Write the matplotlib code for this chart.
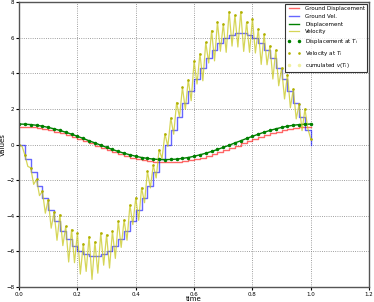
import matplotlib.pyplot as plt

# time grids
t_coarse = [round(0.02 * k, 2) for k in range(51)]
t_fine = [round(0.01 * k, 2) for k in range(101)]

# ground displacement (steps)
ground_disp = [1.00, 0.99, 0.97, 0.93, 0.88, 0.81, 0.73, 0.64, 0.54, 0.43,
               0.31, 0.19, 0.06, -0.06, -0.19, -0.31, -0.43, -0.54, -0.64, -0.73,
               -0.81, -0.88, -0.93, -0.97, -0.99, -1.00, -0.99, -0.97, -0.93, -0.88,
               -0.81, -0.73, -0.64, -0.54, -0.43, -0.31, -0.19, -0.06, 0.06, 0.19,
               0.31, 0.43, 0.54, 0.64, 0.73, 0.81, 0.88, 0.93, 0.97, 0.99, 1.00]

# ground velocity (steps)
ground_vel = [0.00, -0.79, -1.56, -2.31, -3.02, -3.69, -4.30, -4.84, -5.30, -5.68,
              -5.98, -6.17, -6.27, -6.27, -6.17, -5.98, -5.68, -5.30, -4.84, -4.30,
              -3.69, -3.02, -2.31, -1.56, -0.79, 0.00, 0.79, 1.56, 2.31, 3.02,
              3.69, 4.30, 4.84, 5.30, 5.68, 5.98, 6.17, 6.27, 6.27, 6.17,
              5.98, 5.68, 5.30, 4.84, 4.30, 3.69, 3.02, 2.31, 1.56, 0.79, 0.00]

# computed displacement (green, with dots)
displacement = [1.15, 1.14, 1.12, 1.08, 1.03, 0.96, 0.88, 0.79, 0.69, 0.58,
                0.46, 0.34, 0.21, 0.09, -0.04, -0.16, -0.28, -0.39, -0.49, -0.58,
                -0.66, -0.73, -0.78, -0.82, -0.84, -0.85, -0.84, -0.82, -0.78, -0.73,
                -0.66, -0.58, -0.49, -0.39, -0.28, -0.16, -0.04, 0.09, 0.21, 0.34,
                0.46, 0.58, 0.69, 0.79, 0.88, 0.96, 1.03, 1.08, 1.12, 1.14, 1.15]

# noisy velocity (yellow)
velocity = [0.00, -0.09, -0.59, -1.23, -1.31, -2.24, -1.96, -2.87, -2.63, -3.86,
            -3.09, -4.70, -3.80, -5.38, -3.94, -5.68, -4.60, -6.60, -4.78, -6.64,
            -4.97, -7.28, -5.57, -7.13, -5.17, -7.58, -5.47, -7.23, -4.97, -6.78,
            -5.07, -6.94, -4.88, -6.40, -4.30, -5.78, -4.24, -5.38, -3.40, -4.50,
            -2.99, -4.26, -2.43, -3.27, -1.51, -2.44, -1.16, -1.88, -0.29, -0.79,
            0.60, -0.11, 1.49, 0.58, 2.36, 1.54, 3.21, 1.97, 3.63, 2.46,
            4.69, 3.40, 5.10, 3.58, 5.74, 4.58, 6.40, 4.70, 6.88, 5.24,
            6.77, 5.18, 7.47, 5.53, 7.27, 5.48, 7.47, 5.23, 6.87, 5.18,
            7.07, 5.14, 6.48, 4.50, 6.20, 4.48, 5.54, 3.68, 5.30, 3.30,
            4.29, 2.56, 3.93, 2.07, 3.11, 1.44, 2.26, 0.78, 1.99, 0.89, 0.30]

vel_at_ti = velocity[::2]

fig = plt.figure(figsize=(3.74, 3.02), dpi=100)
ax = fig.add_axes([0.051, 0.05, 0.936, 0.943])

ax.step(t_coarse, ground_disp, where="post", color="red", alpha=0.6, lw=1, label="Ground Displacement")
ax.step(t_coarse, ground_vel, where="post", color="blue", alpha=0.6, lw=1, label="Ground Vel.")
ax.plot(t_coarse, displacement, color="green", lw=1, label="Displacement")
ax.plot(t_fine, velocity, color="#c8c820", alpha=0.75, lw=0.9, label="Velocity")
ax.plot(t_coarse, displacement, ".", color="green", ms=3, label="Displacement at $T_i$")
ax.plot(t_coarse, vel_at_ti, ".", color="#b0b000", ms=1.8, label="Velocity at $T_i$")
ax.plot([], [], ".", color="#f0f0a0", ms=3, label="cumulated $v(T_i)$")

ax.set_xlim(0, 1.2)
ax.set_ylim(-8, 8)
ax.set_xticks([0.0, 0.2, 0.4, 0.6, 0.8, 1.0, 1.2])
ax.set_yticks([-8, -6, -4, -2, 0, 2, 4, 6, 8])
ax.tick_params(labelsize=4, length=2, pad=1.5)
ax.grid(True, ls=":", color="gray", lw=0.6)
ax.set_xlabel("time", fontsize=5, labelpad=-0.5)
ax.set_ylabel("Values", fontsize=5, labelpad=0)
for s in ax.spines.values():
    s.set_linewidth(1.0)
    s.set_color("#555555")

leg = ax.legend(loc="upper right", fontsize=4, numpoints=2, handlelength=2.5,
                fancybox=False, borderaxespad=0.3, labelspacing=0.5)
leg.get_frame().set_edgecolor("black")
leg.get_frame().set_linewidth(0.8)

plt.savefig("out.png", dpi=100)
